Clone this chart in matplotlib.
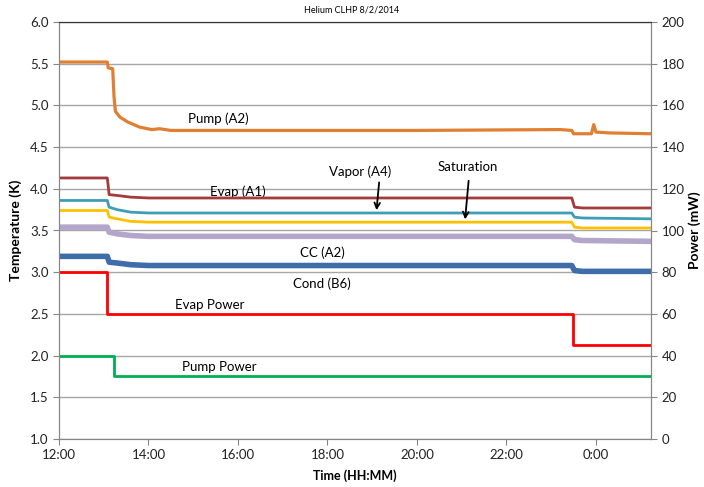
import numpy as np
import matplotlib
matplotlib.use("Agg")
import matplotlib.pyplot as plt

plt.rcParams['font.family'] = ['Lato', 'DejaVu Sans']

# time in hours after midnight of 8/2 (24 = 0:00 next day)
t_pump = [12.0, 13.08, 13.10, 13.20, 13.23, 13.26, 13.36, 13.54, 13.80, 14.07, 14.25, 14.5, 17.0,
          20.0, 23.2, 23.46, 23.50, 23.90, 23.95, 24.0, 24.3, 25.23]
pump_a2 = [5.52, 5.52, 5.45, 5.44, 5.10, 4.93, 4.86, 4.80, 4.74, 4.71, 4.72, 4.70, 4.70,
           4.70, 4.71, 4.70, 4.66, 4.66, 4.77, 4.68, 4.67, 4.66]

t_temp = [12.0, 13.08, 13.12, 13.3, 13.6, 14.0, 23.46, 23.52, 23.7, 25.23]
evap_a1 = [4.13, 4.13, 3.93, 3.92, 3.90, 3.89, 3.89, 3.78, 3.77, 3.77]
vapor_a4 = [3.86, 3.86, 3.78, 3.75, 3.72, 3.71, 3.71, 3.66, 3.65, 3.64]
saturation = [3.74, 3.74, 3.66, 3.64, 3.61, 3.60, 3.60, 3.54, 3.53, 3.53]
cc_a2 = [3.54, 3.54, 3.48, 3.46, 3.44, 3.43, 3.43, 3.39, 3.38, 3.37]
cond_b6 = [3.19, 3.19, 3.12, 3.11, 3.09, 3.08, 3.08, 3.02, 3.01, 3.01]

t_evap_pwr = [12.0, 13.08, 13.08, 23.49, 23.49, 25.23]
evap_power = [80, 80, 60, 60, 45, 45]
t_pump_pwr = [12.0, 13.22, 13.22, 25.23]
pump_power = [40, 40, 30, 30]

xticks = [12, 14, 16, 18, 20, 22, 24]
xlabels = ["12:00", "14:00", "16:00", "18:00", "20:00", "22:00", "0:00"]

fig = plt.figure(figsize=(7.04, 4.87), dpi=100)
ax = fig.add_axes([59/704, 48/487, 592/704, 417/487])
ax2 = ax.twinx()

ax.plot(t_pump, pump_a2, color='#E07E32', lw=2.3, zorder=5)
ax.plot(t_temp, evap_a1, color='#A33B3A', lw=2.0, zorder=5)
ax.plot(t_temp, vapor_a4, color='#3F9DB5', lw=2.0, zorder=5)
ax.plot(t_temp, saturation, color='#FFC000', lw=2.0, zorder=5)
ax.plot(t_temp, cc_a2, color='#B4A5CB', lw=4.0, zorder=5)
ax.plot(t_temp, cond_b6, color='#3E6DAA', lw=4.0, zorder=5)

ax2.plot(t_evap_pwr, evap_power, color='#FF0000', lw=2.0)
ax2.plot(t_pump_pwr, pump_power, color='#00B050', lw=2.0)

ax.set_xlim(12, 25.23)
ax.set_ylim(1.0, 6.0)
ax2.set_ylim(0, 200)
ax.set_yticks(np.arange(1.0, 6.01, 0.5))
ax.set_yticklabels([f"{v:.1f}" for v in np.arange(1.0, 6.01, 0.5)])
ax2.set_yticks(range(0, 201, 20))
ax.set_xticks(xticks)
ax.set_xticklabels(xlabels)

ax.grid(axis='y', color='#A6A6A6', lw=1.0)
ax.set_axisbelow(True)
for a in (ax, ax2):
    for s in ('left', 'right', 'bottom'):
        a.spines[s].set_color('#868686')
    a.spines['top'].set_color('#333333')
    a.tick_params(colors='#868686', labelcolor='#222222', labelsize=9.5, length=4, direction='out')

ax.set_ylabel("Temperature (K)", fontsize=10, fontweight='bold', labelpad=6)
ax2.set_ylabel("Power (mW)", fontsize=10, fontweight='bold', labelpad=3)
ax.set_xlabel("Time (HH:MM)", fontsize=9, fontweight='bold', labelpad=6)
fig.text(352/704, 1 - 10/487, "Helium CLHP 8/2/2014", fontsize=6.5, ha='center', va='center')

ax.text(15.55, 4.84, "Pump (A2)", fontsize=9.5, ha='center', va='center')
ax.text(16.0, 3.97, "Evap (A1)", fontsize=9.5, ha='center', va='center')
ax.text(18.73, 4.21, "Vapor (A4)", fontsize=9.5, ha='center', va='center')
ax.text(21.14, 4.26, "Saturation", fontsize=9.5, ha='center', va='center')
ax.text(17.88, 3.23, "CC (A2)", fontsize=9.5, ha='center', va='center')
ax.text(17.88, 2.86, "Cond (B6)", fontsize=9.5, ha='center', va='center')
ax.text(15.37, 2.61, "Evap Power", fontsize=9.5, ha='center', va='center')
ax.text(15.58, 1.86, "Pump Power", fontsize=9.5, ha='center', va='center')

ax.annotate("", xy=(19.09, 3.71), xytext=(19.16, 4.11),
            arrowprops=dict(arrowstyle='->', color='black', lw=1.3), zorder=6)
ax.annotate("", xy=(21.07, 3.60), xytext=(21.16, 4.13),
            arrowprops=dict(arrowstyle='->', color='black', lw=1.3), zorder=6)

fig.savefig("out.png", dpi=100)
